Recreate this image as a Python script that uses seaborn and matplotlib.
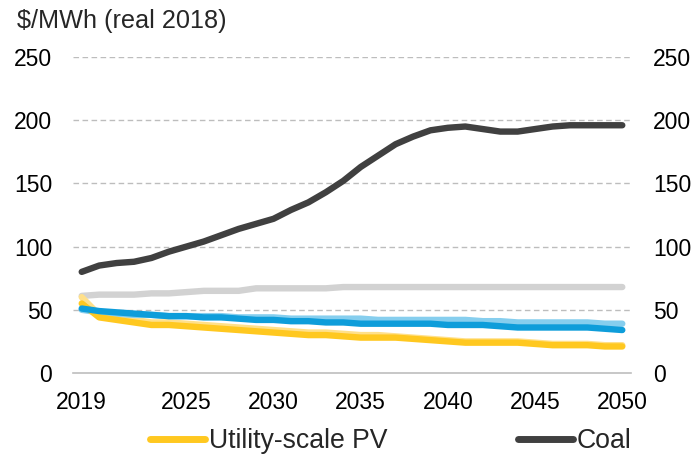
import numpy as np
import pandas as pd
import matplotlib
matplotlib.use("Agg")
import matplotlib.pyplot as plt
import seaborn as sns
from matplotlib.lines import Line2D

years = list(range(2019, 2051))
year_labels = ["2019", "2025", "2030", "2035", "2040", "2045", "2050"]

coal = [80, 85, 87, 88, 91, 96, 100, 104, 109, 114, 118, 122, 129, 135, 143, 152,
        163, 172, 181, 187, 192, 194, 195, 193, 191, 191, 193, 195, 196, 196, 196, 196]
gray_line = [61, 62, 62, 62, 63, 63, 64, 65, 65, 65, 67, 67, 67, 67, 67, 68,
             68, 68, 68, 68, 68, 68, 68, 68, 68, 68, 68, 68, 68, 68, 68, 68]
pv = [55, 44, 42, 40, 38, 38, 37, 36, 35, 34, 33, 32, 31, 30, 30, 29,
      28, 28, 28, 27, 26, 25, 24, 24, 24, 24, 23, 22, 22, 22, 21, 21]
pv_light = [60, 46, 44, 42, 40, 40, 39, 38, 37, 36, 35, 34, 33, 32, 32, 31,
            30, 30, 29, 28, 27, 26, 25, 25, 25, 25, 24, 23, 23, 23, 22, 22]
blue = [51, 49, 48, 47, 46, 45, 45, 44, 44, 43, 42, 42, 41, 41, 40, 40,
        39, 39, 39, 39, 39, 38, 38, 38, 37, 36, 36, 36, 36, 36, 35, 34]
blue_light = [50, 48, 47, 46, 46, 45, 45, 45, 45, 44, 44, 44, 43, 43, 43, 43,
              43, 42, 42, 42, 42, 42, 42, 41, 41, 40, 40, 40, 40, 40, 39, 39]

series = [
    ("gray", gray_line, "#D2D2D2"),
    ("pv_light", pv_light, "#FFE08A"),
    ("blue_light", blue_light, "#86CEEE"),
    ("Utility-scale PV", pv, "#FFC820"),
    ("blue", blue, "#0E9DDA"),
    ("Coal", coal, "#404040"),
]

sns.set_theme(style="white")
plt.rcParams['font.family'] = ['Liberation Sans', 'DejaVu Sans']

TICK_FS = 16.5

fig = plt.figure(figsize=(6.97, 4.63), dpi=100)
ax = fig.add_axes([73/697, 1-373/463, (631-73)/697, (373-57)/463])

pos = np.arange(len(years))
for name, vals, col in series:
    sns.lineplot(x=pos, y=vals, ax=ax, color=col, linewidth=4.6,
                 solid_capstyle="round", solid_joinstyle="round", legend=False)

ax.set_xlim(-0.5, len(years) - 0.5)
ax.set_ylim(0, 250)
yt = [0, 50, 100, 150, 200, 250]
ax.set_yticks(yt)
ax.set_yticklabels([str(v) for v in yt], fontsize=TICK_FS, color="#000000")
for v in yt[1:]:
    ax.axhline(v, color="#BDBDBD", lw=1, ls=(0, (4, 2.5)), zorder=0)

label_pos = [years.index(int(l)) for l in year_labels]
ax.set_xticks(label_pos)
ax.set_xticklabels(year_labels, fontsize=TICK_FS, color="#000000")
ax.set_xticks(np.arange(-0.5, len(years)), minor=True)
ax.tick_params(axis="x", which="major", length=0, pad=13)
ax.tick_params(axis="x", which="minor", length=5, width=1, color="#BDBDBD", direction="out")
ax.tick_params(axis="y", length=0, pad=15)

for s in ["top", "left", "right"]:
    ax.spines[s].set_visible(False)
ax.spines["bottom"].set_color("#BDBDBD")
ax.spines["bottom"].set_linewidth(1.2)

ax2 = ax.twinx()
ax2.set_ylim(0, 250)
ax2.set_yticks(yt)
ax2.set_yticklabels([str(v) for v in yt], fontsize=TICK_FS, color="#000000")
ax2.tick_params(axis="y", length=0, pad=16)
for s in ["top", "left", "right", "bottom"]:
    ax2.spines[s].set_visible(False)
ax2.grid(False)
ax.grid(False)

fig.text(17/697, 1-21/463, "$/MWh (real 2018)", fontsize=18.2, va="center", ha="left")

handles = [Line2D([0], [0], color="#FFC820", lw=5, solid_capstyle="round"),
           Line2D([0], [0], color="#404040", lw=5, solid_capstyle="round")]
fig.legend(handles, ["Utility-scale PV", "Coal"], loc="center",
           bbox_to_anchor=(391/697, 1-441/463), ncol=2, frameon=False,
           fontsize=19.2, handlelength=2.05, handletextpad=0.15, columnspacing=4.9)

fig.savefig("out.png", dpi=100)
